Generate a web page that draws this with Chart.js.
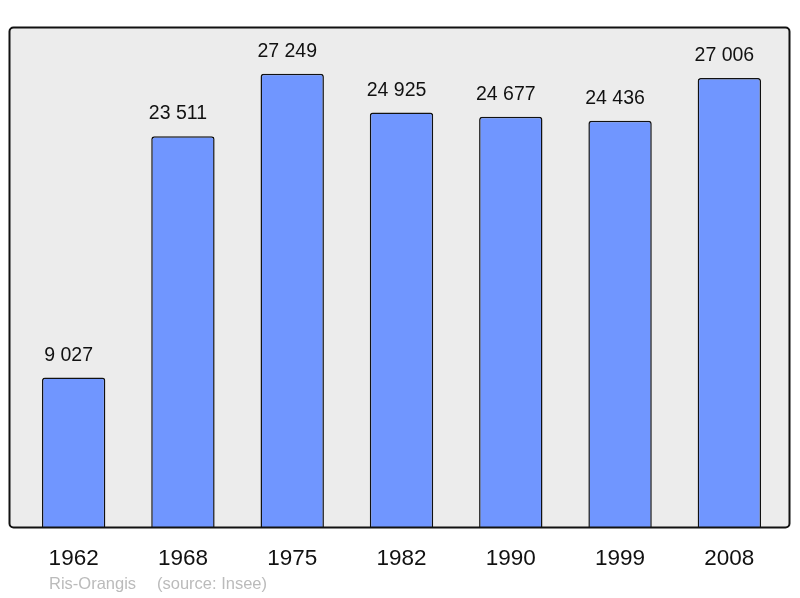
<!DOCTYPE html>
<html>
<head>
<meta charset="utf-8">
<script src="https://cdn.jsdelivr.net/npm/chart.js@4/dist/chart.umd.min.js"></script>
<style>
  html, body { margin: 0; padding: 0; background: #fff; }
  #wrap { width: 800px; height: 598px; }
</style>
</head>
<body>
<div id="wrap"><canvas id="popChart" width="800" height="598"></canvas></div>
<script>
"use strict";

// data
const years = ["1962", "1968", "1975", "1982", "1990", "1999", "2008"];
const population = [9027, 23511, 27249, 24925, 24677, 24436, 27006];
const commune = "Ris-Orangis";
const source = "(source: Insee)";

const fmt = (n) => String(n).replace(/\B(?=(\d{3})+(?!\d))/g, " ");

// grey box with rounded corners behind the bars, border on top
const framePlugin = {
  id: "frame",
  beforeDatasetsDraw(chart) {
    const ctx = chart.ctx;
    ctx.save();
    ctx.beginPath();
    ctx.roundRect(9.5, 27.5, 780, 500, 4);
    ctx.fillStyle = "#ececec";
    ctx.fill();
    ctx.restore();
  },
  afterDatasetsDraw(chart) {
    const ctx = chart.ctx;
    ctx.save();
    ctx.beginPath();
    ctx.roundRect(9.5, 27.5, 780, 500, 4);
    ctx.lineWidth = 2;
    ctx.strokeStyle = "#111";
    ctx.stroke();

    // value labels above each bar (sit a bit left of centre, as in the original)
    ctx.fillStyle = "#111";
    ctx.font = "19.5px 'Liberation Sans', Arial, sans-serif";
    ctx.textAlign = "center";
    ctx.textBaseline = "alphabetic";
    chart.getDatasetMeta(0).data.forEach((bar, i) => {
      ctx.fillText(fmt(population[i]), bar.x - 5, bar.y - 17);
    });

    // footer
    ctx.fillStyle = "#bbbbbb";
    ctx.font = "16.5px 'Liberation Sans', Arial, sans-serif";
    ctx.textAlign = "left";
    ctx.fillText(commune, 49, 589);
    ctx.fillText(source, 157, 589);
    ctx.restore();
  }
};

new Chart(document.getElementById("popChart"), {
  type: "bar",
  data: {
    labels: years,
    datasets: [{
      data: population,
      backgroundColor: "#7096ff",
      borderColor: "#111",
      borderWidth: 1.5,
      borderSkipped: "bottom",
      borderRadius: { topLeft: 3, topRight: 3 },
      categoryPercentage: 1,
      barPercentage: 0.58
    }]
  },
  options: {
    responsive: false,
    animation: false,
    layout: { padding: { left: 19, right: 16, top: 28, bottom: 0 } },
    plugins: { legend: { display: false }, tooltip: { enabled: false } },
    scales: {
      y: { display: false, min: 0, max: 30000 },
      x: {
        grid: { display: false },
        border: { display: false },
        ticks: {
          color: "#111",
          padding: 9,
          font: { family: "'Liberation Sans', Arial, sans-serif", size: 22.5 }
        },
        afterFit(scale) { scale.height = 70; }
      }
    }
  },
  plugins: [framePlugin]
});
</script>
</body>
</html>
